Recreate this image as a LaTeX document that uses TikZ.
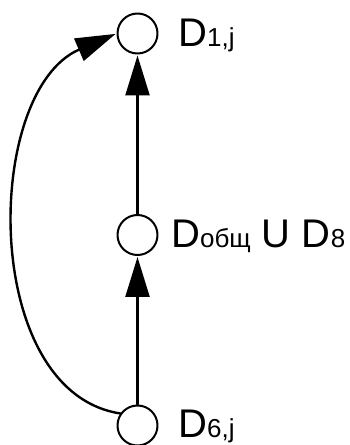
\documentclass[tikz,border=0pt]{standalone}
\usepackage{fontspec}
\setmainfont{Liberation Sans}
\usetikzlibrary{arrows.meta}
\tikzset{vert/.style={circle, draw, line width=2pt, minimum size=40pt, inner sep=0pt},
	big arrow/.style={-{Triangle[length=40pt,width=24pt]}, line width=2.4pt, shorten >=1pt},
	lbl/.style={anchor=base west, inner sep=0pt, font=\fontsize{40}{42}\selectfont},
}
\newcommand{\lowidx}[1]{{\fontsize{26}{28}\selectfont #1}}

\begin{document}
\begin{tikzpicture}[x=1pt,y=1pt,line cap=round,line join=round]
			\useasboundingbox (0,0) rectangle (349,445);
			
			\node[vert] (d1) at (137.5,411.5) {};
			\node[vert] (d2) at (137.5,210) {};
			\node[vert] (d3) at (137.5,19.5) {};
			
			\node[lbl] (l1) at (178,398) {D\lowidx{1,j}};
			\node[lbl] (l2) at (171,197) {D\lowidx{общ} U D\lowidx{8}};
			\node[lbl] (l3) at (178,8) {D\lowidx{6,j}};
			
			\draw[big arrow] (d2) -- (d1);
			\draw[big arrow] (d3) -- (d2);
			\draw[big arrow] (d3.145) .. controls (-20,53) and (-17,354) .. (d1.180);
		\end{tikzpicture}
\end{document}
